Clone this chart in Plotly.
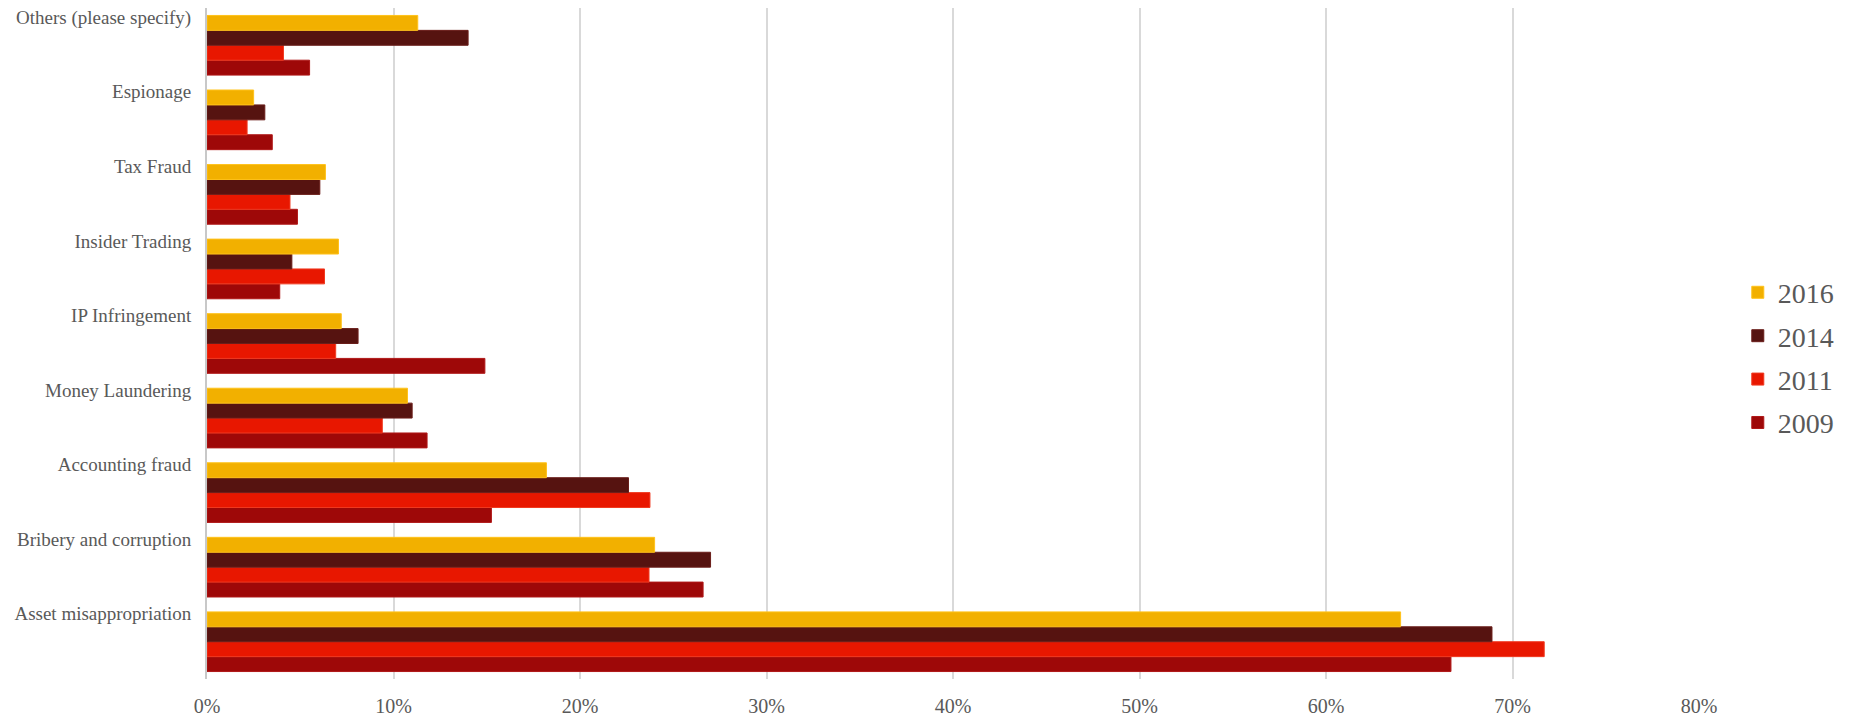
import plotly.graph_objects as go

categories = [
    "Asset misappropriation",
    "Bribery and corruption",
    "Accounting fraud",
    "Money Laundering",
    "IP Infringement",
    "Insider Trading",
    "Tax Fraud",
    "Espionage",
    "Others (please specify)",
]

v2009 = [0.667, 0.266, 0.1525, 0.118, 0.149, 0.039, 0.0485, 0.035, 0.055]
v2011 = [0.717, 0.237, 0.2375, 0.094, 0.069, 0.063, 0.0445, 0.0215, 0.041]
v2014 = [0.689, 0.270, 0.226, 0.110, 0.081, 0.0455, 0.0605, 0.031, 0.140]
v2016 = [0.640, 0.240, 0.182, 0.1075, 0.072, 0.0705, 0.0635, 0.025, 0.113]

x_ticks = [0, 0.1, 0.2, 0.3, 0.4, 0.5, 0.6, 0.7, 0.8]
x_labels = ["0%", "10%", "20%", "30%", "40%", "50%", "60%", "70%", "80%"]

series = [
    ("2009", v2009, "#9E0808", "#B01818", 4),
    ("2011", v2011, "#E81700", "#F03A20", 3),
    ("2014", v2014, "#561310", "#6A1E1A", 2),
    ("2016", v2016, "#F2B000", "#FFC21A", 1),
]

FONT = "Liberation Serif"

fig = go.Figure()
for name, vals, col, lcol, rank in series:
    fig.add_trace(go.Bar(
        y=categories, x=vals, name=name, orientation="h",
        marker=dict(color=col, line=dict(color=lcol, width=1)),
        legendgroup=name, legendrank=rank,
    ))

# page has an 8px body margin, so the figure is sized to fill the rest
fig.update_layout(
    width=1850, height=711,
    margin=dict(l=199, r=159, t=0, b=40, autoexpand=False),
    paper_bgcolor="white", plot_bgcolor="white",
    barmode="group", bargap=0.2, bargroupgap=0,
    font=dict(family=FONT, color="#595959"),
    legend=dict(
        x=1.026, xanchor="left", y=0.479, yanchor="middle",
        traceorder="grouped", tracegroupgap=4,
        font=dict(size=28, color="#595959", family=FONT),
        itemwidth=30,
    ),
    showlegend=True,
)

fig.update_xaxes(
    range=[0, 0.8], tickvals=x_ticks, ticktext=x_labels,
    showgrid=True, gridcolor="#D9D9D9", gridwidth=2,
    zeroline=False, showline=False, automargin=False,
    tickfont=dict(size=20, color="#595959", family=FONT),
    ticks="", ticklabelstandoff=13,
)
fig.update_yaxes(
    categoryorder="array", categoryarray=categories,
    range=[-0.5, len(categories) - 0.5],
    showgrid=False, zeroline=False, automargin=False,
    showline=True, linecolor="#C8C8C8", linewidth=2,
    tickfont=dict(size=19, color="#595959", family=FONT),
    ticks="", ticklabelshift=-28, ticklabelstandoff=10,
)

fig.write_html("out.html")
